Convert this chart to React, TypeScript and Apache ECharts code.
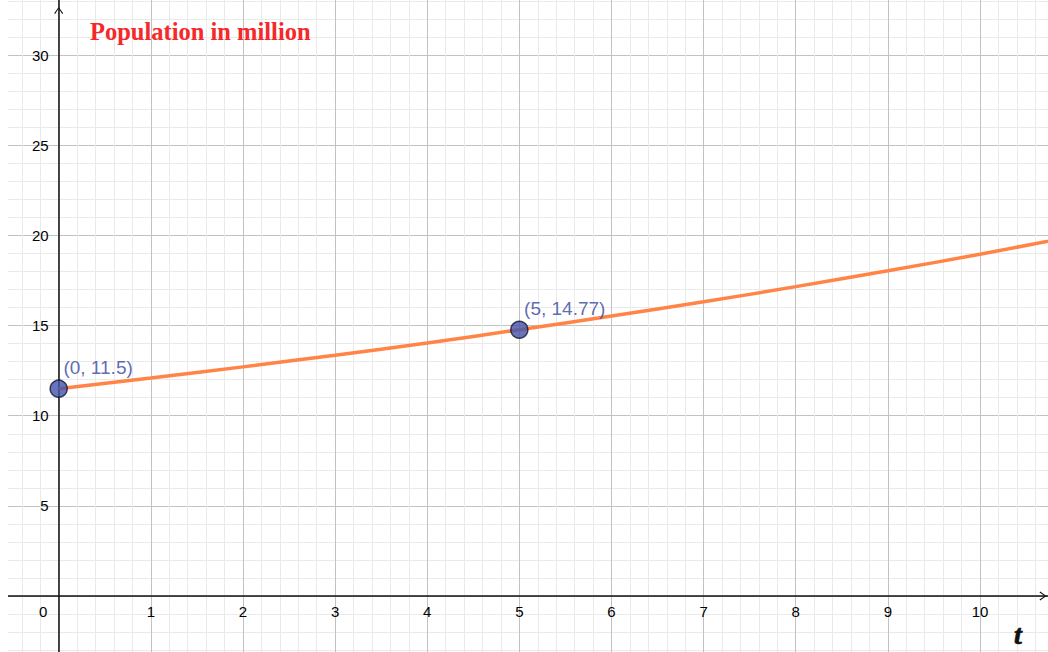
import React, { useEffect, useRef } from "react";
import * as echarts from "echarts";

// Curve P(t) (million), t in years
const tValues = [0, 1, 2, 3, 4, 5, 6, 7, 8, 9, 10, 11];
const populationValues = [11.5, 12.09, 12.71, 13.36, 14.04, 14.77, 15.53, 16.32, 17.16, 18.04, 18.96, 19.93];
// Marked points
const markedT = [0, 5];
const markedPopulation = [11.5, 14.77];
// Tick labels
const xTickLabels = [0, 1, 2, 3, 4, 5, 6, 7, 8, 9, 10];
const yTickLabels = [5, 10, 15, 20, 25, 30];
const chartTitle = "Population in million";
const xAxisName = "t";

const X_MIN = -0.55;
const X_MAX = 10.738;
const Y_MIN = -3.106;
const Y_MAX = 33.06;

const W = 1040;
const H = 652;

const isTick = (v: number, list: number[]) =>
  list.some((t) => Math.abs(t - v) < 1e-6);

const chevron = "path://M0,7 L5,0 L10,7 L9,7.8 L5,1.8 L1,7.8 Z";

export default function App() {
  const ref = useRef<HTMLDivElement>(null);

  useEffect(() => {
    document.documentElement.style.overflow = "hidden";
    document.body.style.overflow = "hidden";
    if (!ref.current) return;
    const chart = echarts.init(ref.current, undefined, { renderer: "svg" });

    const labelFont = "'Liberation Sans', Arial, sans-serif";
    // move the axes from the grid edges onto the zero lines
    const yAxisOffset = -(W * (0 - X_MIN)) / (X_MAX - X_MIN);
    const xAxisOffset = -(H * (0 - Y_MIN)) / (Y_MAX - Y_MIN);

    chart.setOption({
      animation: false,
      backgroundColor: "#ffffff",
      title: {
        text: chartTitle,
        left: 82,
        top: 19,
        padding: 0,
        textStyle: {
          fontFamily: "'Liberation Serif', 'Times New Roman', serif",
          fontWeight: "bold",
          fontSize: 24.5,
          color: "#f5282a",
        },
      },
      grid: {
        left: 0,
        right: 0,
        top: 0,
        bottom: 0,
        containLabel: false,
        outerBoundsMode: "none",
      },
      xAxis: {
        type: "value",
        position: "bottom",
        offset: xAxisOffset,
        min: X_MIN,
        max: X_MAX,
        splitNumber: 11,
        minInterval: 1,
        maxInterval: 1,
        axisLine: {
          show: true,
          onZero: false,
          symbol: ["none", chevron],
          symbolSize: [10, 7],
          symbolOffset: [0, -5],
          lineStyle: { color: "#111111", width: 1.5 },
        },
        axisTick: { show: false },
        axisLabel: {
          show: true,
          showMinLabel: false,
          showMaxLabel: false,
          margin: 8,
          fontSize: 15,
          fontFamily: labelFont,
          color: "#000000",
          formatter: (v: number) => {
            if (!isTick(v, xTickLabels)) return "";
            if (Math.abs(v) < 1e-6) return "{z|0}";
            return String(Math.round(v));
          },
          rich: {
            z: {
              padding: [0, 31, 0, 0],
              fontSize: 15,
              fontFamily: labelFont,
              color: "#000000",
            },
          },
        },
        splitLine: {
          show: true,
          showMinLine: false,
          showMaxLine: false,
          lineStyle: { color: "#c2c2c2", width: 1 },
        },
        minorTick: { show: false, splitNumber: 5 },
        minorSplitLine: {
          show: true,
          lineStyle: { color: "#eaeaea", width: 1 },
        },
      },
      yAxis: {
        type: "value",
        position: "left",
        offset: yAxisOffset,
        min: Y_MIN,
        max: Y_MAX,
        splitNumber: 7,
        minInterval: 5,
        maxInterval: 5,
        axisLine: {
          show: true,
          onZero: false,
          symbol: ["none", chevron],
          symbolSize: [10, 7],
          symbolOffset: [0, -10.5],
          lineStyle: { color: "#111111", width: 1.5 },
        },
        axisTick: { show: false },
        axisLabel: {
          show: true,
          showMinLabel: false,
          showMaxLabel: false,
          margin: 10,
          fontSize: 15,
          fontFamily: labelFont,
          color: "#000000",
          formatter: (v: number) =>
            isTick(v, yTickLabels) ? String(Math.round(v)) : "",
        },
        splitLine: {
          show: true,
          showMinLine: false,
          showMaxLine: false,
          lineStyle: { color: "#c2c2c2", width: 1 },
        },
        minorTick: { show: false, splitNumber: 5 },
        minorSplitLine: {
          show: true,
          lineStyle: { color: "#eaeaea", width: 1 },
        },
      },
      series: [
        {
          type: "line",
          data: tValues.map((t, i) => [t, populationValues[i]]),
          smooth: true,
          showSymbol: false,
          clip: true,
          lineStyle: { color: "#ff8446", width: 3.5 },
          z: 3,
        },
        {
          type: "scatter",
          data: markedT.map((t, i) => [t, markedPopulation[i]]),
          symbol: "circle",
          symbolSize: 17,
          clip: false,
          itemStyle: {
            color: "#4152ab",
            borderColor: "#15152a",
            borderWidth: 1.5,
          },
          label: {
            show: true,
            position: [14, -12],
            align: "left",
            verticalAlign: "middle",
            fontSize: 19,
            fontFamily: labelFont,
            color: "#3545a0",
            formatter: (p: any) => `(${p.value[0]}, ${p.value[1]})`,
          },
          z: 5,
        },
      ],
      graphic: [
        {
          type: "text",
          x: 1010,
          y: 634,
          z: 10,
          style: {
            text: xAxisName,
            fontFamily: "'Liberation Serif', 'Times New Roman', serif",
            fontStyle: "italic",
            fontWeight: 700,
            fontSize: 28,
            fill: "#111111",
            stroke: "#111111",
            lineWidth: 0.7,
            align: "center",
            verticalAlign: "middle",
          },
        },
      ],
    });

    return () => {
      chart.dispose();
    };
  }, []);

  return (
    <div
      ref={ref}
      style={{
        position: "absolute",
        left: 8,
        top: 0,
        width: W,
        height: H,
      }}
    />
  );
}
